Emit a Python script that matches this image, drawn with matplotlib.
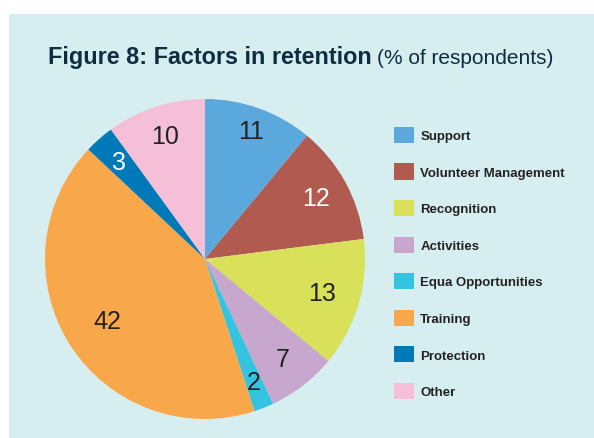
import matplotlib
matplotlib.use("Agg")
import matplotlib.pyplot as plt
import numpy as np
from matplotlib.patches import Rectangle

labels = ["Support", "Volunteer Management", "Recognition", "Activities",
          "Equa Opportunities", "Training", "Protection", "Other"]
values = [11, 12, 13, 7, 2, 42, 3, 10]
colors = ["#5ba8dc", "#b05a50", "#d9e05a", "#c7a7cd",
          "#35c4e0", "#f9a74b", "#0079b8", "#f6bfd8"]
label_colors = ["#222222", "white", "#222222", "#222222",
                "#222222", "#222222", "white", "#222222"]
label_dist = [0.85, 0.79, 0.76, 0.79, 0.83, 0.72, 0.81, 0.81]

sans = ["Liberation Sans", "DejaVu Sans"]
bg = "#d7eef0"

fig = plt.figure(figsize=(5.94, 4.39), dpi=100)
fig.patch.set_facecolor("white")
fig.patches.append(Rectangle((9 / 594, 0), 1, (439 - 15) / 439,
                             transform=fig.transFigure, facecolor=bg,
                             edgecolor="none", zorder=-5))

# pie: centre (205, 260) px, radius 160 px
ax = fig.add_axes([45 / 594, (439 - 420) / 439, 320 / 594, 320 / 439])
ax.set_facecolor("none")
ax.set_zorder(2)
wedges, _ = ax.pie(values, colors=colors, startangle=90, counterclock=False,
                   wedgeprops=dict(linewidth=0))
ax.set_xlim(-1, 1)
ax.set_ylim(-1, 1)
ax.set_aspect("equal")

for w, v, c, d in zip(wedges, values, label_colors, label_dist):
    ang = np.deg2rad((w.theta1 + w.theta2) / 2)
    ax.text(d * np.cos(ang), d * np.sin(ang), str(v), ha="center",
            va="center", fontsize=18, color=c, family=sans)

leg = fig.legend(wedges, labels, loc="upper left",
                 bbox_to_anchor=(382 / 594, (439 - 116) / 439),
                 frameon=False, handlelength=1.5, handleheight=1.5,
                 labelspacing=1.55, handletextpad=0.5,
                 prop=dict(family=sans, weight="bold", size=9.5))
for t in leg.get_texts():
    t.set_color("#222222")

# title in two parts
t1 = fig.text(48 / 594, 1 - 64 / 439, "Figure 8: Factors in retention",
              fontsize=16.8, fontweight="bold", color="#0d2d40",
              family=sans, va="baseline")
fig.canvas.draw()
bb = t1.get_window_extent()
x2 = fig.transFigure.inverted().transform((bb.x1 + 5, bb.y0))[0]
fig.text(x2, 1 - 64 / 439, "(% of respondents)", fontsize=15,
         color="#0d2d40", family=sans, va="baseline")

fig.savefig("out.png", dpi=100, facecolor=fig.get_facecolor())
